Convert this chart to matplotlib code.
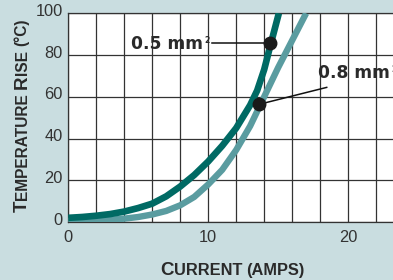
import matplotlib
matplotlib.use('Agg')
from matplotlib import pyplot as plt
from matplotlib.transforms import ScaledTranslation, IdentityTransform

# values
current_05 = [0, 1, 2, 3, 4, 5, 6, 7, 8, 9, 10, 11, 12, 13, 13.5, 14, 14.5, 15.05]
rise_05 = [2, 2.4, 3, 3.8, 5, 6.7, 8.8, 12.3, 17, 22.5, 29, 36.5, 45, 56, 63, 73, 86, 100]
current_08 = [0, 1, 2, 3, 4, 5, 6, 7, 8, 9, 10, 11, 12, 13, 14, 15, 16, 17]
rise_08 = [0.5, 0.6, 0.8, 1.1, 1.6, 2.4, 3.6, 5.3, 8, 12, 18, 25, 34.5, 46, 60, 74, 87, 100]
x_major = [0, 10, 20]
x_minor = list(range(0, 24, 2))
y_ticks = [0, 20, 40, 60, 80, 100]

bg = '#c9dde0'
dark = '#006a64'
light = '#5a9ca0'
gridc = '#333333'
textc = '#2a2a2a'

W, H = 393, 280
fig = plt.figure(figsize=(W / 100, H / 100), dpi=100, facecolor=bg)
ax = fig.add_axes([68.3 / W, 58 / H, 24 * 13.99 / W, 208.7 / H])
ax.set_facecolor('white')

ax.plot(current_08, rise_08, color=light, lw=4.6, solid_capstyle='butt', solid_joinstyle='round', zorder=3)
ax.plot(current_05, rise_05, color=dark, lw=4.8, solid_capstyle='butt', solid_joinstyle='round', zorder=4)

ax.set_xlim(0, 24)
ax.set_ylim(0, 100)
ax.set_xticks(x_major)
ax.set_xticks(x_minor, minor=True)
ax.set_yticks(y_ticks)
ax.grid(True, which='both', axis='x', color=gridc, lw=0.9)
ax.grid(True, which='major', axis='y', color=gridc, lw=0.9)
ax.set_axisbelow(True)
ax.tick_params(which='both', length=0)
ax.tick_params(axis='x', pad=6)
ax.tick_params(axis='y', pad=4)
for s in ['top', 'bottom', 'left']:
    ax.spines[s].set_color(gridc)
    ax.spines[s].set_linewidth(0.9)
ax.spines['right'].set_visible(False)

for lab in ax.get_xticklabels() + ax.get_yticklabels():
    lab.set_family(['Liberation Sans Narrow', 'Liberation Sans', 'DejaVu Sans'])
    lab.set_size(11.8)
    lab.set_color('#333333')
for lab in ax.get_yticklabels():
    lab.set_transform(lab.get_transform() + ScaledTranslation(0, 2.5 / 72, fig.dpi_scale_trans))

# call-out dots and leader lines
ax.plot([10.3, 14.42], [85.6, 85.6], color='#111111', lw=1.1, zorder=5)
ax.plot([18.47, 13.65], [64.5, 56.4], color='#111111', lw=1.1, zorder=5)
ax.plot([14.42], [85.6], 'o', color='#1a1a1a', ms=9, zorder=6)
ax.plot([13.65], [56.4], 'o', color='#1a1a1a', ms=9, zorder=6)

ann_font = ['DejaVu Sans']
for x, y, s in [(4.46, 82.9, '0.5 mm'), (17.85, 68.9, '0.8 mm')]:
    t = ax.text(x, y, s, fontsize=12.3, fontweight='bold', family=ann_font,
                color=textc, ha='left', va='baseline', zorder=6, clip_on=False)
    ax.annotate('2', xy=(1, 0.93), xycoords=t, xytext=(1, 0), textcoords='offset points',
                fontsize=5.5, fontweight='bold', family=ann_font, color=textc,
                ha='left', va='top', annotation_clip=False)

# small-caps axis titles: pieces placed one after another on a common baseline
lab_font = ['Liberation Sans', 'DejaVu Sans']
fig.canvas.draw()
renderer = fig.canvas.get_renderer()


def place_pieces(x0, y0, pieces, rotation=0):
    pos = 0
    for txt, size, gap in pieces:
        pos += gap
        if rotation:
            xy = (x0, y0 + pos)
        else:
            xy = (x0 + pos, y0)
        t = fig.text(xy[0], xy[1], txt, fontsize=size, fontweight='bold', family=lab_font,
                     color=textc, rotation=rotation, rotation_mode='anchor',
                     ha='left', va='baseline', transform=IdentityTransform())
        bb = t.get_window_extent(renderer)
        pos += bb.height if rotation else bb.width


place_pieces(160, 5, [('C', 13.5, 0), ('URRENT', 11.8, 0.5), ('(AMPS)', 11.8, 4)])
place_pieces(26.7, 68, [('T', 13.5, 0), ('EMPERATURE', 11.2, 0.5), ('R', 13.5, 4),
                        ('ISE', 11.2, 0.5), ('(°C)', 11.2, 4)], rotation=90)

fig.savefig('out.png', dpi=100, facecolor=bg)
